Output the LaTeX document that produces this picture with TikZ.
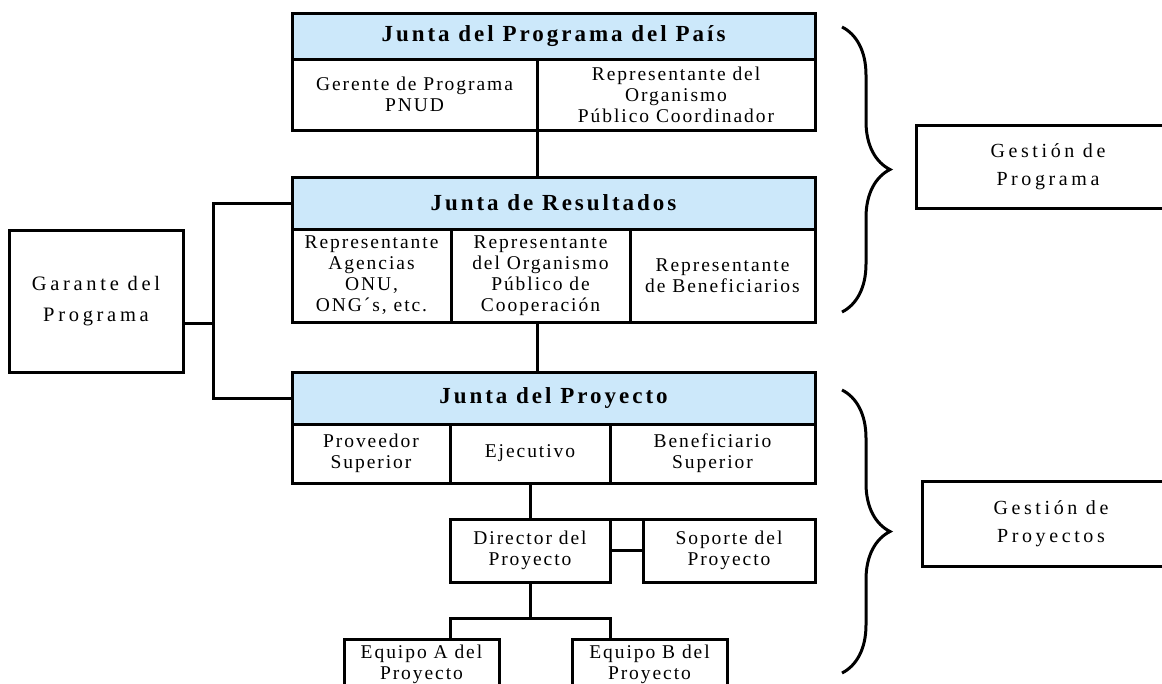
\documentclass[tikz,border=0pt]{standalone}
\usepackage{fontspec}
\setmainfont{Liberation Serif}[LetterSpace=10]
\newfontfamily\widefont{Liberation Serif}[LetterSpace=18]
\newfontfamily\headfont{Liberation Serif}[LetterSpace=13]
\usetikzlibrary{calc}
\usetikzlibrary{decorations.pathreplacing}
\definecolor{headblue}{RGB}{204,232,250}

\begin{document}
\begin{tikzpicture}[x=1pt, y=-1pt, line width=3pt,
  cell/.style={draw, inner sep=0, outer sep=0, anchor=north west, align=center,
    font=\fontsize{19.5}{21}\selectfont},
  headcell/.style={cell, fill=headblue, font=\headfont\bfseries\fontsize{23}{25}\selectfont},
  widecell/.style={cell, font=\widefont\fontsize{20}{28}\selectfont},
  gbrace/.style={decorate, decoration={brace, amplitude=48pt}}]
\useasboundingbox (0,0) rectangle (1162,683);

\node[headcell, minimum width=523, minimum height=46] (pgmHead) at (292,13) {Junta del Programa del País};
\node[cell, minimum width=245, minimum height=71] (pgmA) at (pgmHead.south west) {Gerente de Programa\\PNUD};
\node[cell, minimum width=278, minimum height=71] (pgmB) at (pgmA.north east) {Representante del\\Organismo\\Público Coordinador};

\node[headcell, minimum width=523, minimum height=52] (resHead) at (292,177) {Junta de Resultados};
\node[cell, minimum width=159, minimum height=93] (resA) at (resHead.south west) {Representante\\Agencias\\ONU,\\ONG´s, etc.};
\node[cell, minimum width=179, minimum height=93] (resB) at (resA.north east) {Representante\\del Organismo\\Público de\\Cooperación};
\node[cell, minimum width=185, minimum height=93] (resC) at (resB.north east) {Representante\\de Beneficiarios};

\node[headcell, minimum width=523, minimum height=52] (proyHead) at (292,372) {Junta del Proyecto};
\node[cell, minimum width=158, minimum height=59] (proyA) at (proyHead.south west) {Proveedor\\Superior};
\node[cell, minimum width=160, minimum height=59] (proyB) at (proyA.north east) {Ejecutivo};
\node[cell, minimum width=205, minimum height=59] (proyC) at (proyB.north east) {Beneficiario\\Superior};

\node[widecell, minimum width=174, minimum height=142, font=\widefont\fontsize{20.5}{31}\selectfont] (garante) at (9,230) {Garante del\\Programa};

\node[cell, minimum width=160, minimum height=63] (dir) at (450,519) {Director del\\Proyecto};
\node[cell, minimum width=172, minimum height=63] (sop) at (643,519) {Soporte del\\Proyecto};
\node[cell, minimum width=155, minimum height=51] (eqA) at (344,639) {Equipo A del\\Proyecto};
\node[cell, minimum width=155, minimum height=51] (eqB) at (572,639) {Equipo B del\\Proyecto};

\node[widecell, minimum width=264, minimum height=83] (gesPgm) at (916,125) {Gestión de\\Programa};
\node[widecell, minimum width=258, minimum height=85] (gesProy) at (922,481) {Gestión de\\Proyectos};

\draw[gbrace] (842,27) -- (842,312);
\draw[gbrace] (842,390) -- (842,673);

\draw (pgmA.south east) -- (pgmA.south east |- resHead.north);
\draw (pgmA.south east |- resB.south) -- (pgmA.south east |- proyHead.north);
\draw (proyB.south) -- (dir.north);
\draw (dir.north east) -- (sop.north west);
\draw (dir.east) -- (sop.west);
\coordinate (bus) at ($(dir.south)+(0,36)$);
\draw (dir.south) -- (bus);
\draw (eqA.north -| dir.south west) |- (bus) -| (eqB.north -| dir.south east);
\coordinate (gbus) at (213,323);
\draw (resHead.west) -| (gbus) |- (proyHead.west);
\draw (garante.east |- gbus) -- (gbus);

\end{tikzpicture}
\end{document}
